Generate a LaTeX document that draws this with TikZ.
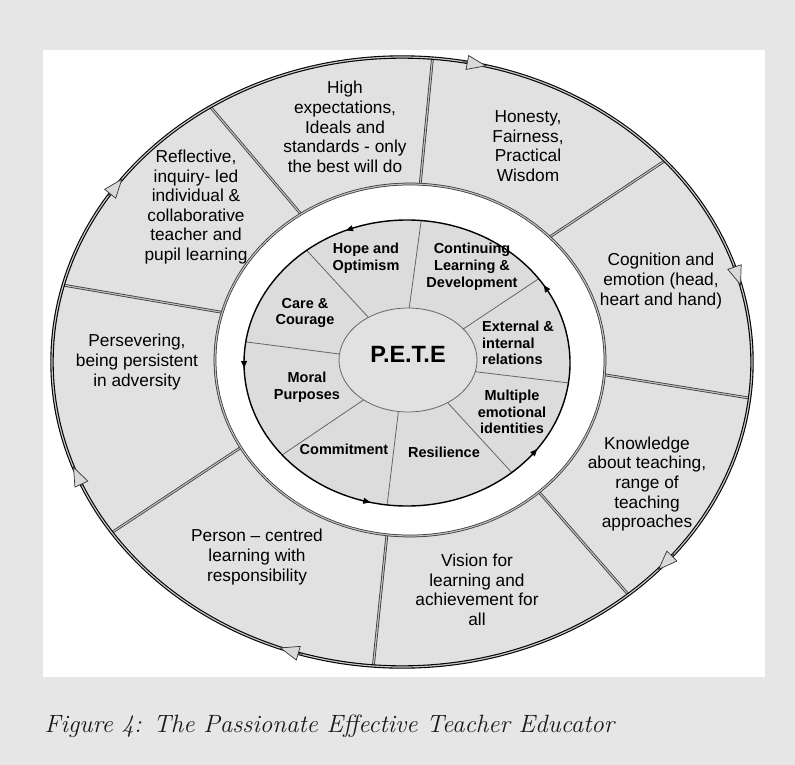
\documentclass[tikz,border=0pt]{standalone}
\usepackage{fontspec}
\newfontfamily\sansf{Liberation Sans}
\usetikzlibrary{arrows.meta}
\definecolor{bggray}{RGB}{230,230,230}
\definecolor{secgray}{RGB}{225,225,225}
\definecolor{ingray}{RGB}{220,220,220}
\begin{document}
\begin{tikzpicture}[x=1pt,y=-1pt,
  outertxt/.style={font=\sansf\fontsize{17.3}{19.6}\selectfont, align=center, inner sep=0pt, text=black},
  innertxt/.style={font=\sansf\bfseries\fontsize{14.5}{16.8}\selectfont, align=center, inner sep=0pt, text=black},
  divline/.style={draw=black!80, line width=0.75pt, double=gray!50, double distance=1.2pt},
  thinline/.style={draw=black!60, line width=0.8pt},
  bigarrow/.style={draw=black!80, line width=0.7pt, -{Triangle[length=20pt,width=15pt,fill=gray!30]}},
  smallarrow/.style={draw=black, line width=0.8pt, -{Triangle[length=7pt,width=6pt]}}
]
\useasboundingbox (0,0) rectangle (795,765);
\fill[bggray] (0,0) rectangle (795,765);
\fill[white] (43,50) rectangle (765,677);

% centres
\coordinate (OC) at (402,362);
\coordinate (RC) at (410,360);
\coordinate (DC) at (407,363);
\coordinate (PC) at (408,360);

% outer band
\fill[secgray] (OC) ellipse [x radius=350pt, y radius=305pt];

\begin{scope}[shift={(402,362)}]
  \coordinate (o1) at (-85:350 and 305);
  \coordinate (o2) at (236.8:350 and 305);
  \coordinate (o3) at (194.6:350 and 305);
  \coordinate (o4) at (146:350 and 305);
  \coordinate (o5) at (94.7:350 and 305);
  \coordinate (o6) at (49.7:350 and 305);
  \coordinate (o7) at (6.8:350 and 305);
  \coordinate (o8) at (-41.3:350 and 305);
\end{scope}
\begin{scope}[shift={(410,360)}]
  \coordinate (r1) at (-87:195 and 176);
  \coordinate (r2) at (236:195 and 176);
  \coordinate (r3) at (195.7:195 and 176);
  \coordinate (r4) at (150.2:195 and 176);
  \coordinate (r5) at (96.8:195 and 176);
  \coordinate (r6) at (48.6:195 and 176);
  \coordinate (r7) at (4.8:195 and 176);
  \coordinate (r8) at (-44.3:195 and 176);
\end{scope}
\foreach \i in {1,...,8}{\draw[divline] (r\i) -- (o\i);}

% white ring
\fill[white] (RC) ellipse [x radius=195pt, y radius=176pt];
\draw[divline] (RC) ellipse [x radius=195pt, y radius=176pt];
\draw[draw=black, line width=1.1pt, double=gray!45, double distance=1.2pt] (OC) ellipse [x radius=350pt, y radius=305pt];

% inner disc
\fill[ingray] (DC) ellipse [x radius=163pt, y radius=143pt];
\begin{scope}[shift={(408,360)}]
  \coordinate (p1) at (-89:69 and 52);
  \coordinate (p2) at (-36.7:69 and 52);
  \coordinate (p3) at (13:69 and 52);
  \coordinate (p4) at (55:69 and 52);
  \coordinate (p5) at (98:69 and 52);
  \coordinate (p6) at (130:69 and 52);
  \coordinate (p7) at (186.6:69 and 52);
  \coordinate (p8) at (235:69 and 52);
\end{scope}
\begin{scope}[shift={(407,363)}]
  \coordinate (d1) at (-85:163 and 143);
  \coordinate (d2) at (-36.1:163 and 143);
  \coordinate (d3) at (8:163 and 143);
  \coordinate (d4) at (50:163 and 143);
  \coordinate (d5) at (97:163 and 143);
  \coordinate (d6) at (140:163 and 143);
  \coordinate (d7) at (188.5:163 and 143);
  \coordinate (d8) at (232:163 and 143);
\end{scope}
\foreach \i in {1,...,8}{\draw[thinline] (p\i) -- (d\i);}
\draw[black!60, line width=0.8pt, fill=secgray] (PC) ellipse [x radius=69pt, y radius=52pt];
\draw[black, line width=1.4pt] (DC) ellipse [x radius=163pt, y radius=143pt];

% small arrows on inner disc (counter-clockwise on screen)
\begin{scope}[shift={(407,363)}]
  \foreach \t in {-112,-33,37,103,178}{
    \draw[smallarrow] (\t+3:163 and 143) -- (\t:163 and 143);
  }
\end{scope}
% big arrows on outer ellipse (clockwise on screen)
\begin{scope}[shift={(402,362)}]
  \foreach \t in {-76,-14.5,43,110.5,160,217}{
    \draw[bigarrow] (\t-4:350 and 305) -- (\t:350 and 305);
  }
\end{scope}

% outer texts
\node[outertxt] (high) at (345,127) {High\\expectations,\\Ideals and\\standards - only\\the best will do};
\node[outertxt] (hon) at (528,146) {Honesty,\\Fairness,\\Practical\\Wisdom};
\node[outertxt] (cog) at (661,281) {Cognition and\\emotion (head,\\heart and hand)};
\node[outertxt] (know) at (647,484) {Knowledge\\about teaching,\\range of\\teaching\\approaches};
\node[outertxt] (vis) at (477,590) {Vision for\\learning and\\achievement for\\all};
\node[outertxt] (pers) at (257,557) {Person – centred\\learning with\\responsibility};
\node[outertxt] (persev) at (137,362) {Persevering,\\being persistent\\in adversity};
\node[outertxt] (refl) at (196,207) {Reflective,\\inquiry- led\\individual \&\\collaborative\\teacher and\\pupil learning};

% inner texts
\node[innertxt] (hope) at (366,258) {Hope and\\Optimism};
\node[innertxt] (cont) at (472,267) {Continuing\\Learning \&\\Development};
\node[innertxt, align=left, anchor=west] (ext) at (482,343) {External \&\\internal\\relations};
\node[innertxt] (mult) at (512,412) {Multiple\\emotional\\identities};
\node[innertxt] (res) at (444,452) {Resilience};
\node[innertxt] (com) at (344,449) {Commitment};
\node[innertxt] (moral) at (307,387) {Moral\\Purposes};
\node[innertxt] (care) at (305,313) {Care \&\\Courage};
\node[font=\sansf\bfseries\fontsize{23.5}{26}\selectfont, inner sep=0pt] (pete) at (408,354) {P.E.T.E};

% caption
\node[anchor=base west, inner sep=0pt, text=black!90, font=\itshape\fontsize{25}{30}\selectfont] (cap) at (44.5,732.6) {Figure 4: The Passionate Effective Teacher Educator};
\end{tikzpicture}
\end{document}
